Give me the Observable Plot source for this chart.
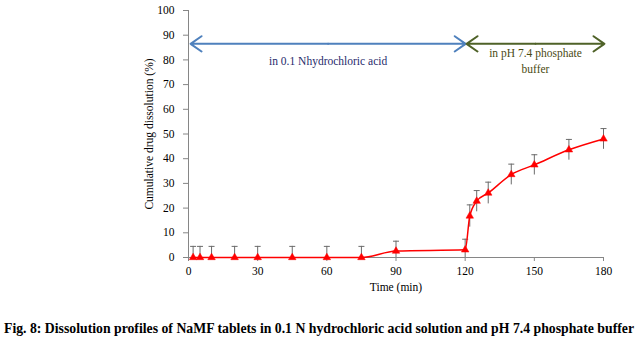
<!DOCTYPE html>
<html>
<head>
<meta charset="utf-8">
<script src="https://cdn.jsdelivr.net/npm/d3@7"></script>
<script src="https://cdn.jsdelivr.net/npm/@observablehq/plot@0.6"></script>
<style>
  body { margin: 0; background: #fff; }
  #chart { width: 638px; }
  #caption { font-family: 'Liberation Serif', 'Times New Roman', serif; font-weight: bold; font-size: 13.75px; text-align: center; margin-top: 13px; white-space: nowrap; color: #000; }
</style>
</head>
<body>
<div id="chart"></div>
<div id="caption">Fig. 8: Dissolution profiles of NaMF tablets in 0.1 N hydrochloric acid solution and pH 7.4 phosphate buffer</div>
<script>
const times = [2, 5, 10, 20, 30, 45, 60, 75, 90, 120, 122, 125, 130, 140, 150, 165, 180];
const values = [0, 0, 0, 0, 0, 0, 0, 0, 2.6, 3.1, 16.8, 22.8, 26.1, 33.6, 37.5, 43.6, 48.0];
const errors = [4.5, 4.5, 4.5, 4.5, 4.5, 4.5, 4.5, 4.5, 4.0, 4.3, 4.5, 4.3, 4.4, 4.2, 4.1, 4.2, 4.2];
const xTicks = [0, 30, 60, 90, 120, 150, 180];
const yTicks = [0, 10, 20, 30, 40, 50, 60, 70, 80, 90, 100];
const phases = [
  {label: "in 0.1 Nhydrochloric acid", start: 0.9, end: 120.2, color: "#4f81bd", text: "#1f2a6b"},
  {label: "in pH 7.4 phosphate\nbuffer", start: 120.6, end: 180.4, color: "#4f6228", text: "#4a4a12"}
];
const arrowLevel = 86.5;
const labelLevel = 80;

const data = times.map((t, i) => ({t, v: values[i], e: errors[i], lo: Math.max(0, values[i] - errors[i]), hi: values[i] + errors[i]}));
const halves = phases.flatMap(p => {
  const mid = (p.start + p.end) / 2;
  return [{x1: mid, x2: p.start, color: p.color}, {x1: mid, x2: p.end, color: p.color}];
});
const capSymbol = {draw(ctx, size) { ctx.moveTo(-3, 0); ctx.lineTo(3, 0); }};
const font = "'Liberation Serif', 'Times New Roman', serif";

const plot = Plot.plot({
  width: 638,
  height: 308,
  marginTop: 10,
  marginBottom: 51,
  marginLeft: 188,
  marginRight: 35,
  style: {fontFamily: font, fontSize: "11px", color: "#000", background: "#fff"},
  x: {domain: [0, 180]},
  y: {domain: [0, 100]},
  marks: [
    Plot.axisY({ticks: yTicks, tickSize: 5, tickPadding: 9, stroke: "#868686", fontSize: 11.5, fontFamily: font,
      label: "Cumulative drug dissolution (%)", labelAnchor: "center", labelArrow: "none", labelOffset: 44}),
    Plot.axisX({ticks: xTicks, tickSize: 4, tickPadding: 5, stroke: "#868686", fontSize: 11.5, fontFamily: font,
      label: "Time (min)", labelAnchor: "center", labelArrow: "none", labelOffset: 33}),
    Plot.ruleX([0], {stroke: "#868686"}),
    Plot.ruleY([0], {stroke: "#868686"}),
    Plot.ruleX(data, {x: "t", y1: "lo", y2: "hi", stroke: "#6b6b6b", strokeWidth: 1}),
    Plot.dot(data, {x: "t", y: "hi", symbol: capSymbol, stroke: "#6b6b6b", strokeWidth: 1}),
    Plot.line(data, {x: "t", y: "v", stroke: "#ff0000", strokeWidth: 1.5, curve: "monotone-x"}),
    Plot.dot(data, {x: "t", y: "v", symbol: "triangle", r: 2.8, fill: "#ff0000", stroke: "#ff0000", strokeWidth: 0.5}),
    Plot.arrow(halves, {x1: "x1", x2: "x2", y1: arrowLevel, y2: arrowLevel, stroke: "color", strokeWidth: 2, headAngle: 70, headLength: 10}),
    Plot.text(phases, {x: p => (p.start + p.end) / 2, y: labelLevel, text: "label", fill: "text", fontSize: 11.5, fontFamily: font, lineHeight: 1.4, lineAnchor: "middle"})
  ]
});
document.getElementById("chart").appendChild(plot);
</script>
</body>
</html>
